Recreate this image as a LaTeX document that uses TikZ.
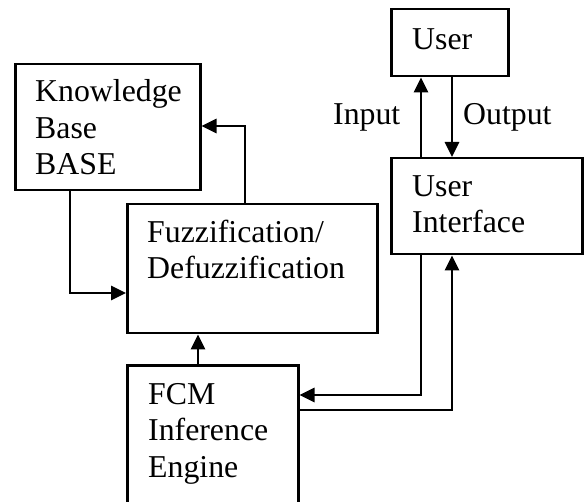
\documentclass[tikz,border=0pt]{standalone}
\usepackage{fontspec}
\setmainfont{Liberation Serif}
\usetikzlibrary{arrows.meta}
\tikzset{
  box/.style={draw, line width=2.5pt, inner sep=0pt, anchor=north west},
  lbl/.style={anchor=base west, align=left, inner sep=0pt,
    font=\fontsize{31.8pt}{36.5pt}\selectfont},
  arr/.style={line width=2.7pt, -{Triangle[length=15pt,width=14pt]}}
}
\begin{document}
\begin{tikzpicture}[x=1pt,y=-1pt]
\useasboundingbox (0,0) rectangle (586,502);
\clip (0,0) rectangle (586,502);
% blocks
\node[box, minimum width=185pt, minimum height=126pt] (kb) at (14,63) {};
\node[box, minimum width=250pt, minimum height=129pt] (fz) at (126,203) {};
\node[box, minimum width=171pt, minimum height=170pt] (fcm) at (126,364) {};
\node[box, minimum width=117pt, minimum height=67pt] (user) at (390,8) {};
\node[box, minimum width=191pt, minimum height=96pt] (ui) at (390,157) {};
% block texts (placed by the baseline of their last line)
\node[lbl] (kbt) at (35,175) {Knowledge\\Base\\BASE};
\node[lbl] (fzt) at (147,279) {Fuzzification/\\Defuzzification};
\node[lbl] (fcmt) at (148,477) {FCM\\Inference\\Engine};
\node[lbl] (usert) at (412,50) {User};
\node[lbl] (uit) at (412,233) {User\\Interface};
% connector labels
\node[lbl] (inp) at (333,125) {Input};
\node[lbl] (outp) at (463,125) {Output};
% connectors
\draw[arr] ([xshift=56pt]kb.south west) |- (fz.west |- 0,293);
\draw[arr] ([xshift=119pt]fz.north west) |- (kb.east |- 0,126);
\draw[arr] ([xshift=72pt]fcm.north west) -- ([xshift=72pt]fz.south west);
\draw[arr] ([xshift=31pt]ui.north west) -- ([xshift=31pt]user.south west);
\draw[arr] ([xshift=62pt]user.south west) -- ([xshift=62pt]ui.north west);
\draw[arr] ([xshift=31pt]ui.south west) |- (fcm.east |- 0,395);
\draw[arr] (fcm.east |- 0,410) -| ([xshift=62pt]ui.south west);
\end{tikzpicture}
\end{document}
